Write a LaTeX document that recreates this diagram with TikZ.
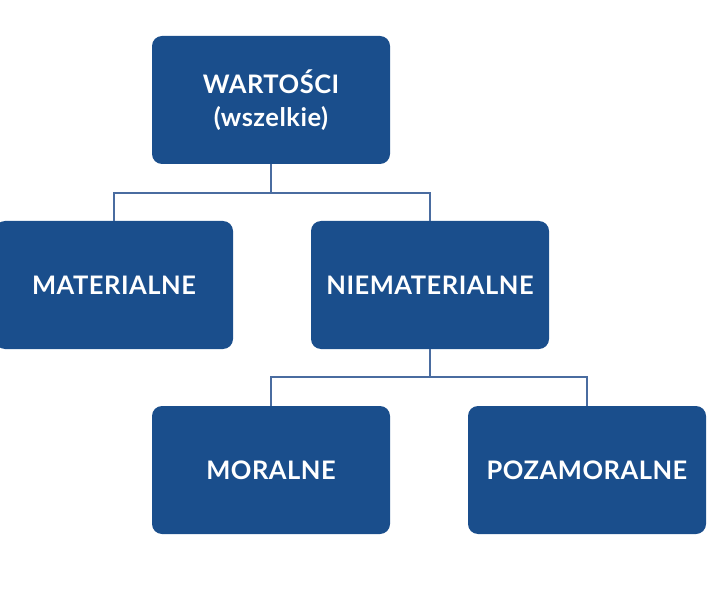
\documentclass[tikz,border=0pt]{standalone}
\usepackage{fontspec}
\setmainfont{Lato}[UprightFont=* Bold, LetterSpace=2]
\definecolor{boxblue}{HTML}{1A4E8C}
\definecolor{lineblue}{HTML}{4A6CA0}
\begin{document}
\begin{tikzpicture}[x=1pt,y=1pt,
  vbox/.style={fill=boxblue, rounded corners=10pt, minimum width=238pt, minimum height=128pt, inner sep=0pt, text=white, align=center, font=\fontsize{25.5}{33}\selectfont},
  conn/.style={draw=lineblue, line width=2pt}]
\useasboundingbox (0,0) rectangle (720,590);
\node[vbox] (w) at (271,490) {WARTOŚCI\\(wszelkie)};
\node[vbox] (m) at (114,305) {MATERIALNE};
\node[vbox] (n) at (430,305) {NIEMATERIALNE};
\node[vbox] (mo) at (271,120) {MORALNE};
\node[vbox] (p) at (587,120) {POZAMORALNE};
\coordinate (j1) at (271,397);
\coordinate (j2) at (430,213);
\draw[conn] (w.south) -- (j1) -| (m.north);
\draw[conn] (j1) -| (n.north);
\draw[conn] (n.south) -- (j2) -| (mo.north);
\draw[conn] (j2) -| (p.north);
\end{tikzpicture}
\end{document}
